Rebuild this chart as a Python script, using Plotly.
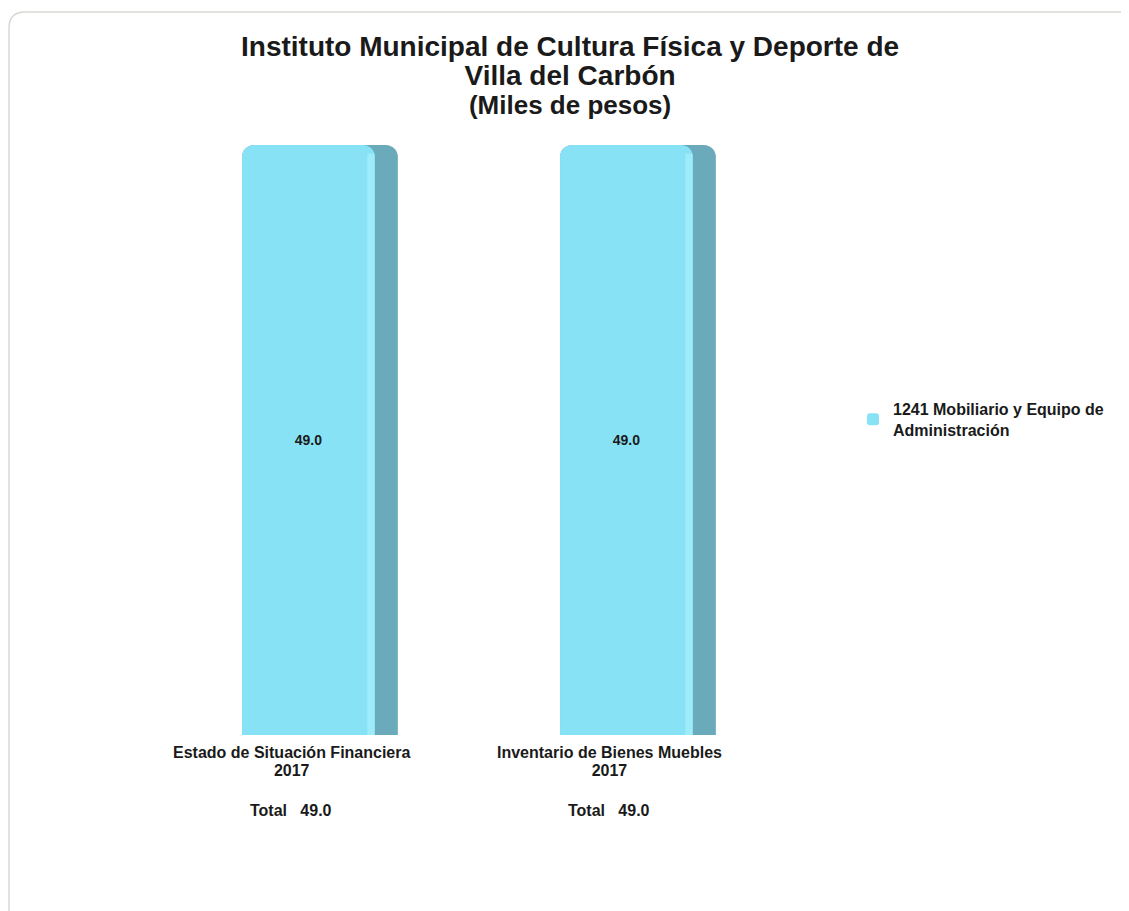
import plotly.graph_objects as go

categories = ["Estado de Situación Financiera", "Inventario de Bienes Muebles"]
years = ["2017", "2017"]
values = [49.0, 49.0]
series_name = "1241 Mobiliario y Equipo de<br>Administración"
title_lines = ["Instituto Municipal de Cultura Física y Deporte de", "Villa del Carbón", "(Miles de pesos)"]

xpos = list(range(len(categories)))

FRONT = "#87e2f6"
SIDE = "#6aaabb"
HIGHLIGHT = "#9eecfa"
TXT = "#1a1a1a"
FONT = "Liberation Sans, Arial"

# pixel helpers (figure coordinates -> paper coordinates)
L, T, B = 124, 137, 727
PW, PH = 636, 590
def px(X):
    return (X - L) / PW
def py(Y):
    return (B - Y) / PH

fig = go.Figure()
# full bar body (side colour) behind the front face
fig.add_trace(go.Bar(
    x=xpos, y=values, marker=dict(color=SIDE, line=dict(width=0), cornerradius=12),
    offset=-0.154, width=0.49, hoverinfo="skip", showlegend=False))
# front face
fig.add_trace(go.Bar(
    x=xpos, y=values, name=series_name, marker=dict(color=FRONT, line=dict(width=0), cornerradius=12),
    offset=-0.154, width=0.418,
    text=[f"<b>{v:.1f}</b>" for v in values], textposition="inside",
    insidetextanchor="middle", textangle=0,
    textfont=dict(size=14, color=TXT, family=FONT),
    hoverinfo="skip", showlegend=True))
# light highlight strip near the edge
fig.add_trace(go.Bar(
    x=xpos, y=[v * 0.985 for v in values], marker=dict(color=HIGHLIGHT, line=dict(width=0)),
    offset=0.240, width=0.022, hoverinfo="skip", showlegend=False))

annotations = []
# title: one annotation, base size sets the line spacing (1.3 * 22.3 = 29 px)
title_text = (f"<b><span style='font-size:28px'>{title_lines[0]}</span><br>"
              f"<span style='font-size:28px'>{title_lines[1]}</span><br>"
              f"<span style='font-size:26px'>{title_lines[2]}</span></b>")
annotations.append(dict(text=title_text, xref="paper", yref="paper",
                        x=px(562), y=py(67), xanchor="center", yanchor="middle",
                        showarrow=False, font=dict(size=22.3, color=TXT, family=FONT)))
# category labels
for i, (c, yr, v) in enumerate(zip(categories, years, values)):
    annotations.append(dict(text=f"<b><span style='font-size:16px'>{c}</span><br>"
                                 f"<span style='font-size:16px'>{yr}</span></b>",
                            xref="x", yref="paper", x=xpos[i], y=py(753), xanchor="center",
                            yanchor="middle", showarrow=False,
                            font=dict(size=14, color=TXT, family=FONT)))
    annotations.append(dict(text=f"<b>Total   {v:.1f}</b>", xref="x", yref="paper",
                            x=xpos[i], y=py(802), xanchor="center", yanchor="middle",
                            showarrow=False, font=dict(size=16, color=TXT, family=FONT)))

# rounded frame (top-left corner visible)
r = 16
xr, yb = px(1200), py(1000)
frame_path = (f"M {px(1)} {yb} L {px(1)} {py(4 + r)} Q {px(1)} {py(4)} {px(1 + r)} {py(4)} "
              f"L {xr} {py(4)}")

fig.update_layout(
    width=1129, height=911,
    paper_bgcolor="white", plot_bgcolor="white",
    barmode="overlay",
    margin=dict(l=L, r=1129 - L - PW, t=T, b=911 - B),
    font=dict(family=FONT, color=TXT),
    xaxis=dict(range=[-0.5, 1.5], showticklabels=False, showgrid=False,
               zeroline=False, showline=False, ticks=""),
    yaxis=dict(range=[0, 49], visible=False, showgrid=False, zeroline=False),
    legend=dict(x=px(845), y=py(384), xanchor="left", yanchor="top",
                font=dict(size=16, color=TXT, family=FONT, weight="bold"),
                itemwidth=30, bgcolor="rgba(0,0,0,0)"),
    annotations=annotations,
    shapes=[dict(type="path", xref="paper", yref="paper", path=frame_path,
                 line=dict(color="#d8d8d4", width=1.5), layer="below")],
)
fig.write_html("out.html")
